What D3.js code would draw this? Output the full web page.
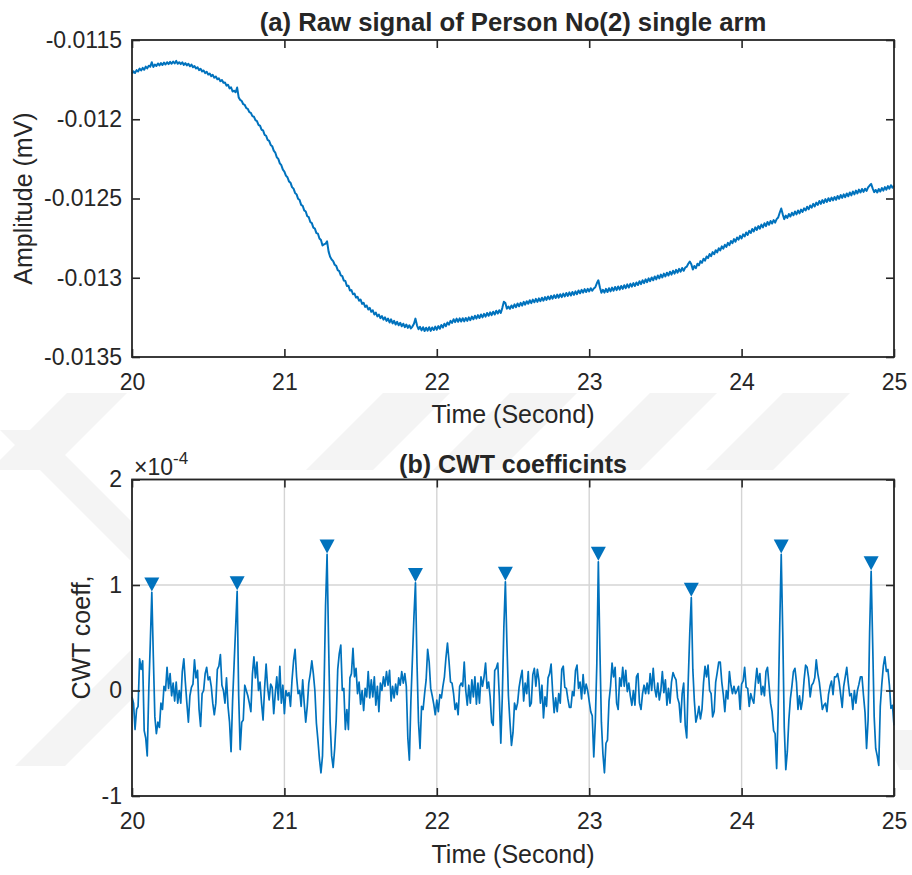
<!DOCTYPE html>
<html>
<head>
<meta charset="utf-8">
<script src="https://cdn.jsdelivr.net/npm/d3@7"></script>
<style>
body { margin: 0; background: #fff; }
svg text { font-family: "Liberation Sans", Arial, Helvetica, sans-serif; fill: #262626; }
.tick text { font-size: 23px; }
.tick line { stroke: #262626; stroke-width: 1.6; }
</style>
</head>
<body>
<div id="chart"></div>
<script>
// time axis (seconds), samples every 0.01 s
var xTicks = [20, 21, 22, 23, 24, 25];
var xTickLabels = ["20", "21", "22", "23", "24", "25"];
var t0 = 20, dt = 0.01;

// (a) raw signal, in microvolts (-11.712 uV = -0.011712 mV)
var rawTicks = [-13.5, -13, -12.5, -12, -11.5];
var rawTickLabels = ["-0.0135", "-0.013", "-0.0125", "-0.012", "-0.0115"];
var rawSignal = [
  -11.712,-11.698,-11.708,-11.690,-11.699,-11.680,-11.692,-11.676,-11.688,-11.668, // 20.0
  -11.679,-11.662,-11.668,-11.640,-11.670,-11.655,-11.664,-11.648,-11.660,-11.646, // 20.1
  -11.658,-11.642,-11.655,-11.640,-11.652,-11.638,-11.650,-11.636,-11.648,-11.632, // 20.2
  -11.650,-11.640,-11.652,-11.641,-11.657,-11.646,-11.660,-11.650,-11.666,-11.655, // 20.3
  -11.672,-11.665,-11.680,-11.672,-11.690,-11.682,-11.698,-11.692,-11.709,-11.700, // 20.4
  -11.718,-11.712,-11.728,-11.720,-11.738,-11.730,-11.748,-11.742,-11.760,-11.752, // 20.5
  -11.770,-11.768,-11.788,-11.782,-11.805,-11.798,-11.825,-11.820,-11.830,-11.800, // 20.6
  -11.862,-11.878,-11.885,-11.905,-11.910,-11.930,-11.935,-11.955,-11.960,-11.980, // 20.7
  -11.984,-12.006,-12.012,-12.036,-12.040,-12.066,-12.070,-12.098,-12.104,-12.130, // 20.8
  -12.136,-12.162,-12.170,-12.198,-12.210,-12.240,-12.250,-12.278,-12.290,-12.318, // 20.9
  -12.330,-12.356,-12.366,-12.392,-12.400,-12.428,-12.438,-12.465,-12.474,-12.502, // 21.0
  -12.510,-12.540,-12.546,-12.575,-12.582,-12.612,-12.618,-12.648,-12.655,-12.684, // 21.1
  -12.690,-12.718,-12.722,-12.752,-12.762,-12.796,-12.790,-12.785,-12.770,-12.835, // 21.2
  -12.868,-12.885,-12.895,-12.918,-12.925,-12.952,-12.958,-12.985,-12.990,-13.018, // 21.3
  -13.020,-13.052,-13.050,-13.080,-13.078,-13.104,-13.100,-13.125,-13.120,-13.145, // 21.4
  -13.138,-13.165,-13.158,-13.184,-13.175,-13.200,-13.190,-13.215,-13.205,-13.232, // 21.5
  -13.220,-13.244,-13.232,-13.255,-13.242,-13.264,-13.250,-13.272,-13.258,-13.282, // 21.6
  -13.262,-13.288,-13.272,-13.295,-13.278,-13.300,-13.284,-13.306,-13.290,-13.312, // 21.7
  -13.295,-13.316,-13.300,-13.320,-13.308,-13.290,-13.258,-13.300,-13.325,-13.310, // 21.8
  -13.332,-13.312,-13.336,-13.315,-13.334,-13.312,-13.335,-13.314,-13.330,-13.308, // 21.9
  -13.328,-13.305,-13.322,-13.298,-13.314,-13.290,-13.305,-13.282,-13.296,-13.272, // 22.0
  -13.285,-13.262,-13.280,-13.258,-13.278,-13.256,-13.276,-13.255,-13.275,-13.254, // 22.1
  -13.272,-13.250,-13.268,-13.245,-13.262,-13.240,-13.258,-13.236,-13.254,-13.232, // 22.2
  -13.250,-13.228,-13.245,-13.222,-13.240,-13.218,-13.236,-13.214,-13.232,-13.208, // 22.3
  -13.226,-13.205,-13.222,-13.190,-13.152,-13.160,-13.195,-13.182,-13.196,-13.175, // 22.4
  -13.190,-13.168,-13.186,-13.162,-13.180,-13.158,-13.176,-13.152,-13.170,-13.148, // 22.5
  -13.164,-13.142,-13.160,-13.138,-13.155,-13.133,-13.152,-13.130,-13.148,-13.126, // 22.6
  -13.145,-13.122,-13.140,-13.118,-13.136,-13.114,-13.132,-13.110,-13.128,-13.106, // 22.7
  -13.126,-13.104,-13.122,-13.100,-13.118,-13.096,-13.115,-13.092,-13.112,-13.090, // 22.8
  -13.108,-13.086,-13.104,-13.080,-13.098,-13.076,-13.094,-13.072,-13.090,-13.070, // 22.9
  -13.086,-13.066,-13.082,-13.068,-13.060,-13.035,-13.016,-13.060,-13.095,-13.076, // 23.0
  -13.094,-13.070,-13.090,-13.066,-13.086,-13.062,-13.082,-13.058,-13.078,-13.055, // 23.1
  -13.075,-13.052,-13.070,-13.047,-13.066,-13.042,-13.062,-13.038,-13.056,-13.034, // 23.2
  -13.052,-13.030,-13.046,-13.022,-13.040,-13.016,-13.034,-13.010,-13.028,-13.004, // 23.3
  -13.022,-12.998,-13.016,-12.992,-13.010,-12.986,-13.004,-12.980,-12.998,-12.974, // 23.4
  -12.992,-12.968,-12.986,-12.962,-12.980,-12.956,-12.974,-12.950,-12.968,-12.944, // 23.5
  -12.962,-12.938,-12.956,-12.936,-12.930,-12.912,-12.898,-12.915,-12.948,-12.926, // 23.6
  -12.940,-12.912,-12.922,-12.895,-12.906,-12.880,-12.892,-12.866,-12.876,-12.850, // 23.7
  -12.864,-12.838,-12.852,-12.826,-12.840,-12.814,-12.828,-12.802,-12.816,-12.792, // 23.8
  -12.806,-12.780,-12.794,-12.768,-12.782,-12.756,-12.772,-12.746,-12.760,-12.736, // 23.9
  -12.752,-12.726,-12.740,-12.714,-12.730,-12.704,-12.718,-12.692,-12.708,-12.682, // 24.0
  -12.698,-12.674,-12.690,-12.665,-12.682,-12.656,-12.674,-12.648,-12.666,-12.642, // 24.1
  -12.658,-12.636,-12.652,-12.630,-12.620,-12.590,-12.563,-12.600,-12.630,-12.608, // 24.2
  -12.622,-12.598,-12.614,-12.590,-12.606,-12.582,-12.600,-12.576,-12.594,-12.570, // 24.3
  -12.585,-12.562,-12.576,-12.552,-12.568,-12.544,-12.558,-12.534,-12.550,-12.526, // 24.4
  -12.540,-12.516,-12.534,-12.510,-12.528,-12.504,-12.522,-12.498,-12.516,-12.494, // 24.5
  -12.512,-12.490,-12.508,-12.484,-12.502,-12.478,-12.496,-12.474,-12.492,-12.468, // 24.6
  -12.486,-12.462,-12.480,-12.456,-12.474,-12.450,-12.468,-12.444,-12.462,-12.440, // 24.7
  -12.458,-12.438,-12.452,-12.430,-12.418,-12.408,-12.436,-12.460,-12.446,-12.462, // 24.8
  -12.440,-12.456,-12.434,-12.450,-12.428,-12.444,-12.422,-12.438,-12.416,-12.432, // 24.9
  -12.418                                                                          // 25.0
];

// (b) CWT coefficients, in units of 1e-4
var cwtTicks = [-1, 0, 1, 2];
var cwtTickLabels = ["-1", "0", "1", "2"];
var cwtCoeff = [
  -0.06,-0.12,-0.37,-0.18,-0.15, 0.30, 0.20, 0.28,-0.38,-0.45, // 20.0
  -0.62, 0.00, 0.45, 0.93, 0.32,-0.25,-0.41,-0.30,-0.35,-0.12, // 20.1
  -0.18, 0.04, 0.00, 0.22, 0.02, 0.16,-0.05, 0.07,-0.10, 0.08, // 20.2
  -0.12, 0.00,-0.12, 0.18, 0.30, 0.08,-0.12,-0.30,-0.05, 0.03, // 20.3
   0.06, 0.29, 0.12, 0.19,-0.18,-0.34,-0.03, 0.00, 0.16, 0.22, // 20.4
   0.10, 0.13, 0.04,-0.12,-0.23,-0.12, 0.20, 0.23, 0.34, 0.05, // 20.5
   0.00,-0.12, 0.12,-0.15,-0.30,-0.58,-0.10, 0.25, 0.60, 0.94, // 20.6
  -0.05,-0.56,-0.30,-0.28, 0.05, 0.00,-0.05,-0.12,-0.20, 0.15, // 20.7
   0.32, 0.12, 0.27, 0.00, 0.08,-0.12,-0.28, 0.02, 0.25, 0.03, // 20.8
  -0.09, 0.06, 0.03,-0.22,-0.03, 0.13,-0.09, 0.23,-0.12, 0.05, // 20.9
  -0.22, 0.00,-0.05,-0.02,-0.15, 0.10, 0.28, 0.39, 0.13,-0.03, // 21.0
   0.00,-0.15, 0.10,-0.12,-0.30,-0.15, 0.07, 0.16, 0.28, 0.16, // 21.1
   0.00,-0.31,-0.47,-0.65,-0.78,-0.62, 0.00, 0.80, 1.29, 0.45, // 21.2
  -0.30,-0.62,-0.73,-0.55,-0.28, 0.20, 0.35, 0.43, 0.00, 0.02, // 21.3
  -0.37,-0.18,-0.37, 0.12, 0.16, 0.40, 0.13, 0.21,-0.03, 0.08, // 21.4
  -0.13, 0.00,-0.19, 0.02,-0.06, 0.18,-0.07, 0.10,-0.06, 0.13, // 21.5
  -0.14, 0.04,-0.20, 0.07, 0.00, 0.13, 0.04, 0.18, 0.05, 0.19, // 21.6
  -0.10, 0.04,-0.07, 0.06,-0.04, 0.12, 0.05, 0.18, 0.07, 0.16, // 21.7
   0.04,-0.45,-0.66,-0.10, 0.30, 0.70, 1.02, 0.26,-0.30,-0.55, // 21.8
  -0.15,-0.18,-0.03, 0.10, 0.39, 0.27, 0.02,-0.05,-0.13,-0.23, // 21.9
  -0.09,-0.20,-0.04,-0.07, 0.04, 0.13, 0.31, 0.45, 0.28, 0.08, // 22.0
   0.07,-0.03,-0.18,-0.12,-0.23, 0.04, 0.07, 0.04, 0.27, 0.00, // 22.1
  -0.14, 0.05,-0.12, 0.10,-0.06, 0.13,-0.13, 0.07,-0.12, 0.13, // 22.2
   0.04, 0.13, 0.26, 0.02, 0.08,-0.06,-0.30,-0.33, 0.19, 0.21, // 22.3
   0.26,-0.05,-0.50,-0.05, 0.60, 1.03, 0.45,-0.05,-0.30,-0.52, // 22.4
  -0.40,-0.12,-0.18,-0.12, 0.03, 0.12, 0.19,-0.10, 0.07,-0.03, // 22.5
   0.18,-0.15,-0.12, 0.15, 0.21, 0.04, 0.20, 0.10,-0.12, 0.05, // 22.6
  -0.26,-0.06,-0.15, 0.12, 0.16, 0.25,-0.01,-0.21,-0.07,-0.20, // 22.7
  -0.03,-0.12, 0.20, 0.23, 0.03, 0.02,-0.08,-0.16,-0.16,-0.01, // 22.8
  -0.05, 0.19, 0.24, 0.02, 0.08,-0.08, 0.15,-0.03, 0.06, 0.00, // 22.9
  -0.10,-0.20,-0.24,-0.63,-0.30, 0.25, 1.22, 0.40,-0.30,-0.60, // 23.0
  -0.78,-0.50,-0.47,-0.10, 0.04, 0.26, 0.13, 0.22,-0.12,-0.18, // 23.1
   0.12, 0.04, 0.22, 0.04, 0.19,-0.01, 0.07,-0.05,-0.14, 0.00, // 23.2
  -0.14, 0.13, 0.16,-0.12,-0.18,-0.03, 0.05,-0.03, 0.07,-0.03, // 23.3
   0.16, 0.00, 0.21, 0.02,-0.06, 0.07,-0.09, 0.00, 0.18,-0.02, // 23.4
   0.10,-0.14, 0.02,-0.12, 0.08, 0.17, 0.13, 0.10,-0.07,-0.12, // 23.5
  -0.30,-0.03, 0.07,-0.33,-0.45, 0.10, 0.55, 0.88, 0.20,-0.10, // 23.6
  -0.30,-0.24,-0.15,-0.27,-0.18, 0.07, 0.23, 0.13, 0.24, 0.00, // 23.7
  -0.03,-0.25,-0.20, 0.08, 0.17, 0.27, 0.27, 0.08,-0.04,-0.20, // 23.8
   0.00,-0.08, 0.18, 0.05,-0.03, 0.04,-0.03, 0.00, 0.04,-0.18, // 23.9
   0.06, 0.09, 0.22, 0.03, 0.02,-0.15,-0.03,-0.08,-0.12, 0.06, // 24.0
   0.21, 0.07, 0.16,-0.04, 0.04,-0.05, 0.18, 0.22, 0.05,-0.12, // 24.1
  -0.20,-0.38,-0.41,-0.74,-0.20, 0.60, 1.29, 0.55,-0.35,-0.75, // 24.2
  -0.58,-0.28,-0.08, 0.04, 0.18, 0.21, 0.08,-0.18,-0.05,-0.18, // 24.3
  -0.09, 0.10, 0.24, 0.22, 0.12,-0.06, 0.05, 0.07, 0.12, 0.29, // 24.4
   0.16, 0.08,-0.05,-0.18,-0.14,-0.12,-0.20,-0.04, 0.04, 0.09, // 24.5
  -0.04, 0.13, 0.13, 0.16, 0.08,-0.04,-0.16, 0.04, 0.13, 0.22, // 24.6
   0.07,-0.05,-0.03,-0.18, 0.00,-0.12, 0.00, 0.06, 0.13, 0.13, // 24.7
  -0.05,-0.21,-0.55,-0.28, 0.55, 1.13, 0.45,-0.25,-0.55,-0.62, // 24.8
  -0.71,-0.15, 0.06, 0.23, 0.32, 0.18, 0.20, 0.05,-0.17,-0.14, // 24.9
  -0.33                                                        // 25.0
];

// detected peaks (findpeaks)
var peakTimes = [20.13, 20.69, 21.28, 21.86, 22.45, 23.06, 23.67, 24.26, 24.85];
var peakValues = [0.93, 0.94, 1.29, 1.02, 1.03, 1.22, 0.88, 1.29, 1.13];

var width = 912, height = 875;
var blue = "#0072BD", ink = "#262626";

var svg = d3.select("#chart")
  .append("svg")
    .attr("width", width)
    .attr("height", height);

svg.append("rect")
    .attr("width", width)
    .attr("height", height)
    .attr("fill", "#fff");

// faint watermark behind the axes
var wm = svg.append("g").attr("fill", "#f4f4f4");
["0,430 40,430 170,560 130,560",
 "15,766 65,766 185,646 135,646",
 "67,393 127,393 50,470 -10,470",
 "383,393 450,393 373,470 306,470",
 "510,393 577,393 500,470 433,470",
 "650,393 717,393 640,470 573,470",
 "783,393 850,393 773,470 706,470",
 "880,730 912,730 912,770 900,770"].forEach(function(p) {
  wm.append("polygon").attr("points", p);
});

var x = d3.scaleLinear().domain([20, 25]).range([132, 894]);
var yRaw = d3.scaleLinear().domain([-13.5, -11.5]).range([357, 40]);
var yCwt = d3.scaleLinear().domain([-1, 2]).range([796, 479.5]);

function tOf(i) { return t0 + i * dt; }

// white plot area, optional grid
function drawBack(y, yTicks, grid) {
  var r = y.range();
  svg.append("rect")
      .attr("x", x.range()[0])
      .attr("y", r[1])
      .attr("width", x.range()[1] - x.range()[0])
      .attr("height", r[0] - r[1])
      .attr("fill", "#fff");
  if (!grid) return;
  var g = svg.append("g")
      .attr("stroke", "#d4d4d4")
      .attr("stroke-width", 1.4);
  g.selectAll(".gx")
      .data(xTicks)
    .enter().append("line")
      .attr("x1", function(d) { return x(d); })
      .attr("x2", function(d) { return x(d); })
      .attr("y1", r[0])
      .attr("y2", r[1]);
  g.selectAll(".gy")
      .data(yTicks)
    .enter().append("line")
      .attr("x1", x.range()[0])
      .attr("x2", x.range()[1])
      .attr("y1", function(d) { return y(d); })
      .attr("y2", function(d) { return y(d); });
}

// box with inward ticks on all four sides
function drawAxes(y, yTicks, yLabels) {
  var r = y.range();
  var bottom = svg.append("g")
      .attr("transform", "translate(0," + r[0] + ")")
      .call(d3.axisBottom(x).tickValues(xTicks).tickSize(-8).tickSizeOuter(0).tickPadding(17)
        .tickFormat(function(d, i) { return xTickLabels[i]; }));
  var top = svg.append("g")
      .attr("transform", "translate(0," + r[1] + ")")
      .call(d3.axisTop(x).tickValues(xTicks).tickSize(-8).tickSizeOuter(0).tickFormat(""));
  var left = svg.append("g")
      .attr("transform", "translate(" + x.range()[0] + ",0)")
      .call(d3.axisLeft(y).tickValues(yTicks).tickSize(-8).tickSizeOuter(0).tickPadding(10)
        .tickFormat(function(d, i) { return yLabels[i]; }));
  var right = svg.append("g")
      .attr("transform", "translate(" + x.range()[1] + ",0)")
      .call(d3.axisRight(y).tickValues(yTicks).tickSize(-8).tickSizeOuter(0).tickFormat(""));
  [bottom, top, left, right].forEach(function(a) { a.select(".domain").remove(); });

  svg.append("rect")
      .attr("x", x.range()[0])
      .attr("y", r[1])
      .attr("width", x.range()[1] - x.range()[0])
      .attr("height", r[0] - r[1])
      .attr("fill", "none")
      .attr("stroke", ink)
      .attr("stroke-width", 1.8);
}

function addText(txt, px, py, size, weight, rotate) {
  var t = svg.append("text")
      .attr("text-anchor", "middle")
      .style("font-size", size + "px")
      .style("font-weight", weight || "normal")
      .text(txt);
  if (rotate) t.attr("transform", "translate(" + px + "," + py + ") rotate(-90)");
  else t.attr("x", px).attr("y", py);
  return t;
}

// ---- panel (a)
drawBack(yRaw, rawTicks, false);

svg.append("path")
    .datum(rawSignal)
    .attr("fill", "none")
    .attr("stroke", blue)
    .attr("stroke-width", 2)
    .attr("stroke-linejoin", "round")
    .attr("d", d3.line()
      .x(function(d, i) { return x(tOf(i)); })
      .y(function(d) { return yRaw(d); }));

drawAxes(yRaw, rawTicks, rawTickLabels);

addText("(a) Raw signal of Person No(2) single arm", 513, 30.5, 25.7, "bold");
addText("Time (Second)", 513, 423, 25);
addText("Amplitude (mV)", 32, 198.5, 25, null, true);

// ---- panel (b)
drawBack(yCwt, cwtTicks, true);

svg.append("path")
    .datum(cwtCoeff)
    .attr("fill", "none")
    .attr("stroke", blue)
    .attr("stroke-width", 1.7)
    .attr("stroke-linejoin", "round")
    .attr("d", d3.line()
      .x(function(d, i) { return x(tOf(i)); })
      .y(function(d) { return yCwt(d); }));

// add the peak markers (downward triangles sitting on each peak)
svg.selectAll(".peak")
    .data(peakTimes)
  .enter().append("path")
    .attr("class", "peak")
    .attr("fill", blue)
    .attr("d", "M-7.5,-14L7.5,-14L0,0Z")
    .attr("transform", function(d, i) {
      return "translate(" + x(d) + "," + (yCwt(peakValues[i]) - 1) + ")";
    });

drawAxes(yCwt, cwtTicks, cwtTickLabels);

addText("(b) CWT coefficints", 513, 473, 25, "bold");
addText("Time (Second)", 513, 863, 25);
addText("CWT coeff,", 90, 637.5, 25, null, true);

// exponent label of the y axis
var expo = svg.append("text")
    .attr("x", 134)
    .attr("y", 475)
    .style("font-size", "23px")
    .text("\u00d710");
expo.append("tspan")
    .attr("dy", -11)
    .style("font-size", "17px")
    .text("-4");
</script>
</body>
</html>
